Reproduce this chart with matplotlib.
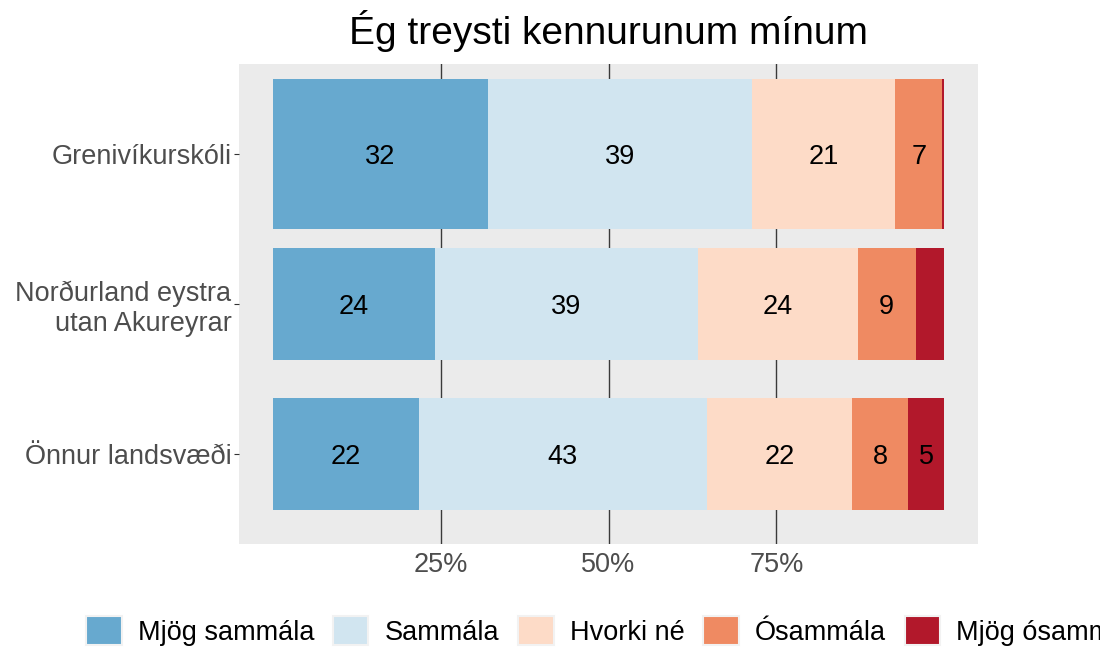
import numpy as np
import matplotlib
matplotlib.use("Agg")
import matplotlib.pyplot as plt
from matplotlib.patches import Patch

plt.rcParams['font.family'] = ['Liberation Sans', 'DejaVu Sans']

# data (percent of answers per group)
groups = ["Önnur landsvæði", "Norðurland eystra\nutan Akureyrar", "Grenivíkurskóli"]
answers = ["Mjög sammála", "Sammála", "Hvorki né", "Ósammála", "Mjög ósammála"]
mjog_sammala = [21.8, 24.1, 32.0]
sammala = [42.8, 39.2, 39.3]
hvorki = [21.7, 23.8, 21.4]
osammala = [8.3, 8.6, 7.0]
mjog_osammala = [5.4, 4.3, 0.3]
bar_width = [0.75, 0.75, 1.0]

colors = ["#67A9CF", "#D1E5F0", "#FDDBC7", "#EF8A62", "#B2182B"]

series = np.array([mjog_sammala, sammala, hvorki, osammala, mjog_osammala]) / 100.0

fig = plt.figure(figsize=(11, 6.47), dpi=100)
ax = fig.add_axes([0.2173, 0.1592, 0.6718, 0.7419])
ax.set_facecolor("#EBEBEB")

ypos = np.arange(1, len(groups) + 1)
for xv in [0.25, 0.5, 0.75]:
    ax.axvline(xv, color="#3A3A3A", lw=1.0, zorder=1)

fs = 19.5
left = np.zeros(len(groups))
for i, vals in enumerate(series):
    ax.barh(ypos, vals, left=left, height=bar_width, color=colors[i], zorder=2)
    for j, v in enumerate(vals):
        if v * 100 >= 5:
            ax.text(left[j] + v / 2, ypos[j], f"{v*100:.0f}", ha="center", va="center_baseline",
                    fontsize=fs, color="black", zorder=3)
    left += vals

ax.set_xlim(-0.05, 1.05)
ax.set_ylim(0.4, 3.6)
ax.set_xticks([0.25, 0.5, 0.75])
ax.set_xticklabels(["25%", "50%", "75%"])
ax.set_yticks(ypos)
ax.set_yticklabels(groups)
ax.tick_params(axis="x", length=0, labelsize=fs, labelcolor="#4D4D4D", pad=6)
ax.tick_params(axis="y", length=3.5, color="#333333", labelsize=fs, labelcolor="#4D4D4D", pad=2)
for s in ax.spines.values():
    s.set_visible(False)

# title centred over the panel
fig.text(0.553, 0.932, "Ég treysti kennurunum mínum", fontsize=28, ha="center", va="baseline")

# legend runs off the right edge, as in the original
handles = [Patch(facecolor=c, edgecolor="#F2F2F2", lw=1.5) for c in colors]
fig.legend(handles, answers, loc="lower left", bbox_to_anchor=(85 / 1100, 0.0), ncol=5,
           frameon=False, fontsize=fs, handlelength=1.3, handleheight=1.3,
           handletextpad=0.6, columnspacing=0.7, borderpad=0, borderaxespad=0.05)

fig.savefig("out.png", dpi=100)
